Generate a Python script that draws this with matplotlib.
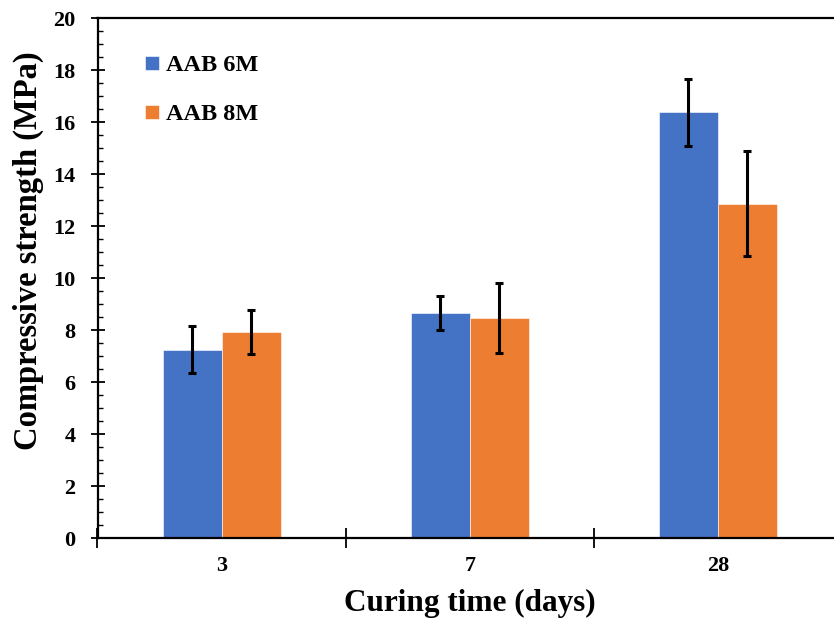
import matplotlib
matplotlib.use("Agg")
import matplotlib.pyplot as plt
import numpy as np
from matplotlib.ticker import MultipleLocator, FixedLocator

categories = ["3", "7", "28"]
series_names = ["AAB 6M", "AAB 8M"]
aab6 = [7.24, 8.66, 16.37]
aab6_err = [0.91, 0.65, 1.30]
aab8 = [7.93, 8.46, 12.86]
aab8_err = [0.84, 1.33, 2.02]

colors = ["#4472C4", "#ED7D31"]

plt.rcParams["font.family"] = ["Liberation Serif", "DejaVu Serif"]
plt.rcParams["font.weight"] = "bold"

fig = plt.figure(figsize=(8.34, 6.22), dpi=100)
ax = fig.add_axes([97.5 / 834, 1 - 538 / 622, (842 - 97.5) / 834, (538 - 18) / 622])

x = np.arange(len(categories))
w = 0.238
for i, (vals, errs) in enumerate([(aab6, aab6_err), (aab8, aab8_err)]):
    ax.bar(x + (i - 0.5) * w, vals, width=w, color=colors[i], label=series_names[i],
           edgecolor="white", linewidth=0.4)
    ax.errorbar(x + (i - 0.5) * w, vals, yerr=errs, fmt="none", ecolor="black",
                elinewidth=2.2, capsize=3, capthick=2.2)

ax.set_xlim(-0.5, 2.5)
ax.set_ylim(0, 20)
ax.yaxis.set_major_locator(MultipleLocator(2))
ax.yaxis.set_minor_locator(MultipleLocator(0.5))
ax.tick_params(axis="y", which="major", direction="inout", length=10, width=1.3,
               labelsize=16, pad=11)
ax.tick_params(axis="y", which="minor", direction="in", length=3.6, width=1.0)

ax.xaxis.set_major_locator(FixedLocator([-0.5, 0.5, 1.5, 2.5]))
ax.xaxis.set_major_formatter(plt.NullFormatter())
ax.xaxis.set_minor_locator(FixedLocator(list(x)))
ax.set_xticklabels(categories, minor=True)
ax.tick_params(axis="x", which="major", direction="inout", length=14, width=1.3)
ax.tick_params(axis="x", which="minor", length=0, labelsize=16, pad=13)

for s in ["left", "bottom", "top"]:
    ax.spines[s].set_linewidth(1.6)
ax.spines["right"].set_visible(False)

ax.set_ylabel("Compressive strength (MPa)", fontsize=23.5, fontweight="bold")
ax.yaxis.set_label_coords(-0.072, 0.552)
ax.set_xlabel("Curing time (days)", fontsize=22.5, fontweight="bold", labelpad=9)

ax.legend(loc="upper left", bbox_to_anchor=(0.035, 0.97), frameon=False,
          handlelength=0.55, handleheight=0.55, handletextpad=0.3, labelspacing=1.15,
          prop={"size": 17.5, "weight": "bold"})

fig.savefig("out.png", dpi=100)
